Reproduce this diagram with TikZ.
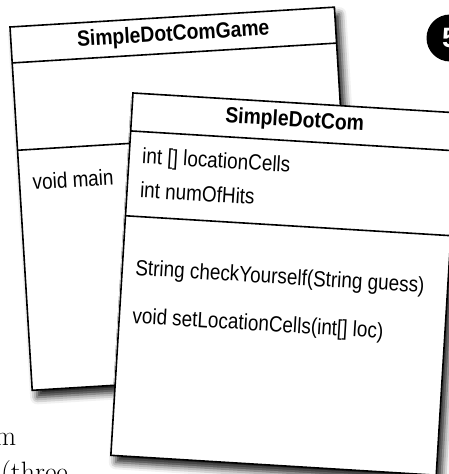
\documentclass[tikz,border=0pt]{standalone}
\usepackage{fontspec}
\setsansfont{Liberation Sans}
\usetikzlibrary{shadows.blur}

\begin{document}
\begin{tikzpicture}[x=1pt, y=1pt,
  card/.style={draw, line width=1.6pt, fill=white,
    blur shadow={shadow xshift=5pt, shadow yshift=-7pt, shadow blur radius=7pt, shadow opacity=90}},
  sep/.style={line width=1.6pt},
  head/.style={font=\sffamily\bfseries\fontsize{22}{24}\selectfont, xscale=0.88, inner sep=0pt},
  member/.style={font=\sffamily\fontsize{22}{24}\selectfont, xscale=0.86, anchor=west, inner sep=0pt},
  pagetext/.style={font=\fontsize{28}{34}\selectfont, inner sep=0pt}]
\path[use as bounding box, clip] (0,0) rectangle (449,-474);

% bits of the page text
\node[pagetext, anchor=base east] (pageM) at (16.5,-445) {m};
\node[pagetext, anchor=base east] (pageThree) at (68,-481) {(three};

% step number
\node[circle, fill=black, minimum size=47pt, inner sep=0pt, text=white,
  font=\sffamily\bfseries\fontsize{28}{28}\selectfont] (stepNum) at (450,-38) {5};

% SimpleDotComGame
\begin{scope}[shift={(10,-27)}, rotate=3.5, transform shape]
  \draw[card] (0,0) rectangle (325,-364);
  \draw[sep] (0,-36) -- (325,-36);
  \draw[sep] (0,-123.5) -- (325,-123.5);
  \node[head] (gameName) at (162.5,-18) {SimpleDotComGame};
  \node[member] (gameMain) at (13,-156) {void main};
\end{scope}

% SimpleDotCom
\begin{scope}[shift={(133,-93)}, rotate=-3.5, transform shape]
  \draw[card] (0,0) rectangle (326,-363);
  \draw[sep] (0,-38) -- (326,-38);
  \draw[sep] (0,-123) -- (326,-123);
  \node[head] (dotName) at (163,-18) {SimpleDotCom};
  \node[member] (cellsVar) at (13,-64) {int [] locationCells};
  \node[member] (hitsVar) at (13,-96) {int numOfHits};
  \node[member] (checkMeth) at (13,-176) {String checkYourself(String guess)};
  \node[member] (setMeth) at (13,-224) {void setLocationCells(int[] loc)};
\end{scope}
\end{tikzpicture}
\end{document}
